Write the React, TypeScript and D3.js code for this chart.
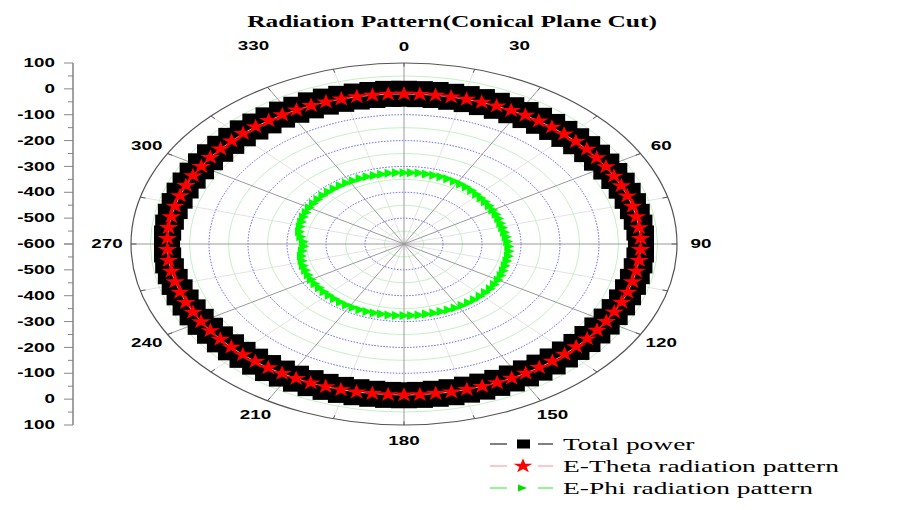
import React from "react";
import * as d3 from "d3";

// ---------- DATA ----------
const angles: number[] = d3.range(0, 360, 4);

const totalPower: number[] = [
  -19, -19, -18, -18, -17, -16, -15, -14, -12, -11, -9, -8, -6, -4, -3, -1, 0, 2, 3, 5, 6, 7, 8, 8, 7, 6, 5, 4, 3, 1, 0, -2, -3, -5, -6, -7, -9, -10, -11, -12, -13, -14, -14, -15, -15,
  -15, -15, -15, -14, -13, -12, -11, -10, -9, -7, -6, -4, -3, -1, 0, 2, 3, 4, 5, 6, 7, 8, 8, 8, 8, 7, 6, 5, 4, 3, 1, 0, -2, -4, -5, -7, -9, -10, -12, -13, -14, -16, -17, -18, -18,
];

const eTheta: number[] = [
  -20, -20, -19, -19, -18, -17, -16, -15, -13, -12, -10, -9, -7, -5, -4, -2, -1, 1, 2, 4, 5, 6, 7, 7, 6, 5, 4, 3, 2, 0, -1, -3, -4, -6, -7, -8, -10, -11, -12, -13, -14, -15, -15, -16, -16,
  -16, -16, -16, -15, -14, -13, -12, -11, -10, -8, -7, -5, -4, -2, -1, 1, 2, 3, 4, 5, 6, 7, 7, 7, 7, 6, 5, 4, 3, 2, 0, -1, -3, -5, -6, -8, -10, -11, -13, -14, -15, -17, -18, -19, -19,
];

const ePhi: number[] = [
  -324, -324, -323, -323, -323, -323, -324, -325, -326, -328, -330, -332, -334, -335, -336, -337, -337, -338, -339, -339, -338, -336, -334, -331, -329, -328, -328, -327, -325, -323, -321, -320, -319, -319, -319, -319, -319, -319, -320, -321, -322, -322, -323, -323, -323,
  -323, -323, -323, -323, -322, -322, -322, -322, -322, -323, -323, -324, -324, -325, -325, -326, -327, -328, -329, -331, -333, -338, -343, -342, -334, -328, -326, -324, -322, -321, -320, -320, -320, -320, -321, -321, -322, -322, -323, -323, -323, -324, -324, -324, -324,
];

const radialMin = -600;
const radialMax = 100;
const majorRings: number[] = [-500, -400, -300, -200, -100, 0];
const minorRings: number[] = [-550, -450, -350, -250, -150, -50, 50];
const angleLabels: number[] = [0, 30, 60, 90, 120, 150, 180, 210, 240, 270, 300, 330];
const axisTopTicks: number[] = [100, 0, -100, -200, -300, -400, -500, -600];
const axisBottomTicks: number[] = [-500, -400, -300, -200, -100, 0, 100];
const seriesNames: string[] = ["Total power", "E-Theta radiation pattern", "E-Phi radiation pattern"];
const title = "Radiation Pattern(Conical Plane Cut)";

// ---------- LAYOUT ----------
const W = 897, H = 510;
const cx = 404, cy = 244, RX = 273, RY = 181;
const SX = 1.57; // horizontal stretch of text & markers

const rScale = d3.scaleLinear().domain([radialMin, radialMax]).range([0, 1]);
const pt = (a: number, v: number): [number, number] => {
  const f = rScale(v);
  const t = (a * Math.PI) / 180;
  return [cx + RX * f * Math.sin(t), cy - RY * f * Math.cos(t)];
};

const yTop = d3.scaleLinear().domain([radialMin, radialMax]).range([cy, cy - RY]);
const yBot = d3.scaleLinear().domain([radialMin, radialMax]).range([cy, cy + RY]);

const starPath = d3.symbol().type(d3.symbolStar).size(72)() as string;
const starPathLegend = d3.symbol().type(d3.symbolStar).size(66)() as string;
const triPath = "M-4.5,-4.5L5.5,0L-4.5,4.5Z";

const lineGen = d3.line<[number, number]>().curve(d3.curveLinearClosed);

function SText(props: { x: number; y: number; size: number; family: string; weight?: string; anchor?: string; children: any; sx?: number }) {
  const { x, y, size, family, weight, anchor, children, sx } = props;
  return (
    <text
      transform={`translate(${x},${y}) scale(${sx ?? SX},1)`}
      fontSize={size}
      fontFamily={family}
      fontWeight={weight ?? "normal"}
      textAnchor={anchor ?? "middle"}
      dominantBaseline="central"
      fill="#000"
    >
      {children}
    </text>
  );
}

export default function App() {
  const sans = "'Liberation Sans', Arial, sans-serif";
  const serif = "'Liberation Serif', 'Times New Roman', serif";

  const totPts = angles.map((a, i) => pt(a, totalPower[i]));
  const thPts = angles.map((a, i) => pt(a, eTheta[i]));
  const phPts = angles.map((a, i) => pt(a, ePhi[i]));

  const labelOffset = (a: number): [number, number] => {
    if (a === 30) return [-33, -28];
    if (a === 330) return [-2, -28];
    return [0, 0];
  };

  const legendRows = [444, 466, 488];

  return (
    <svg width={W} height={H} style={{ position: "absolute", left: 0, top: 0, background: "#fff" }}>
      <rect x={0} y={0} width={W} height={H} fill="#fff" />

      {/* title */}
      <SText x={452} y={22} size={16.5} family={serif} weight="bold" sx={1.54}>{title}</SText>

      {/* radial light lines at 15 deg offsets */}
      {d3.range(15, 360, 30).map((a) => {
        const [x, y] = pt(a, radialMax);
        return <line key={"l" + a} x1={cx} y1={cy} x2={x} y2={y} stroke="#dcdcdc" strokeWidth={0.8} />;
      })}
      {/* minor rings */}
      {minorRings.map((v) => (
        <ellipse key={"m" + v} cx={cx} cy={cy} rx={RX * rScale(v)} ry={RY * rScale(v)} fill="none" stroke="#b4eeb4" strokeWidth={0.8} />
      ))}
      {/* major rings */}
      {majorRings.map((v) => (
        <ellipse key={"M" + v} cx={cx} cy={cy} rx={RX * rScale(v)} ry={RY * rScale(v)} fill="none" stroke="#3a3aff" strokeWidth={0.8} strokeDasharray="1.5,1.5" />
      ))}
      {/* radial dark lines */}
      {d3.range(0, 360, 30).map((a) => {
        const [x, y] = pt(a, radialMax);
        return <line key={"d" + a} x1={cx} y1={cy} x2={x} y2={y} stroke="#9a9a9a" strokeWidth={1} />;
      })}
      {/* outer ring */}
      <ellipse cx={cx} cy={cy} rx={RX} ry={RY} fill="none" stroke="#555" strokeWidth={1.2} />
      {d3.range(0, 360, 15).map((a) => {
        const [x1, y1] = pt(a, radialMax);
        const [x2, y2] = pt(a, radialMax - 14);
        return <line key={"t" + a} x1={x1} y1={y1} x2={x2} y2={y2} stroke="#555" strokeWidth={1} />;
      })}

      {/* angle labels */}
      {angleLabels.map((a) => {
        const t = (a * Math.PI) / 180;
        const [dx, dy] = labelOffset(a);
        return (
          <SText key={"al" + a} x={cx + 297 * Math.sin(t) + dx} y={cy - 197 * Math.cos(t) + dy} size={12} family={sans} weight="bold">
            {a}
          </SText>
        );
      })}

      {/* left axis */}
      <line x1={73} y1={yTop(radialMax)} x2={73} y2={yBot(radialMax)} stroke="#444" strokeWidth={1} />
      {d3.range(radialMin, radialMax + 1, 50).map((v) => {
        const major = v % 100 === 0;
        return (
          <g key={"ax" + v}>
            <line x1={major ? 64 : 68} x2={73} y1={yTop(v)} y2={yTop(v)} stroke="#888" strokeWidth={1} />
            <line x1={major ? 64 : 68} x2={73} y1={yBot(v)} y2={yBot(v)} stroke="#888" strokeWidth={1} />
          </g>
        );
      })}
      {axisTopTicks.map((v) => (
        <SText key={"yt" + v} x={55} y={yTop(v)} size={12} family={sans} weight="bold" anchor="end">{v}</SText>
      ))}
      {axisBottomTicks.map((v) => (
        <SText key={"yb" + v} x={55} y={yBot(v)} size={12} family={sans} weight="bold" anchor="end">{v}</SText>
      ))}

      {/* Total power */}
      <path d={lineGen(totPts) as string} fill="none" stroke="#000" strokeWidth={1} />
      {totPts.map(([x, y], i) => (
        <rect key={"sq" + i} x={x - 13} y={y - 13} width={26} height={26} fill="#000" />
      ))}

      {/* E-Theta */}
      <path d={lineGen(thPts) as string} fill="none" stroke="#ff9090" strokeWidth={1} />
      {thPts.map(([x, y], i) => (
        <path key={"st" + i} d={starPath} transform={`translate(${x},${y}) scale(1.3,1)`} fill="#ff0000" />
      ))}

      {/* E-Phi */}
      <path d={lineGen(phPts) as string} fill="none" stroke="#00ee00" strokeWidth={1} />
      {phPts.map(([x, y], i) => (
        <path key={"tr" + i} d={triPath} transform={`translate(${x},${y})`} fill="#00ff00" />
      ))}

      {/* legend */}
      {seriesNames.map((name, i) => {
        const y = legendRows[i];
        const col = i === 0 ? "#000" : i === 1 ? "#ff9090" : "#22ee22";
        return (
          <g key={"lg" + i}>
            <line x1={490} x2={507} y1={y} y2={y} stroke={col} strokeWidth={1} />
            <line x1={538} x2={553} y1={y} y2={y} stroke={col} strokeWidth={1} />
            {i === 0 && <rect x={517} y={y - 4.5} width={13} height={9} fill="#000" />}
            {i === 1 && <path d={starPathLegend} transform={`translate(523,${y}) scale(1.3,1)`} fill="#ff0000" />}
            {i === 2 && <path d="M-4,-3.5L5,0L-4,3.5Z" transform={`translate(522,${y})`} fill="#00dd00" />}
            <SText x={563} y={y} size={17.5} family={serif} anchor="start">{name}</SText>
          </g>
        );
      })}
    </svg>
  );
}
